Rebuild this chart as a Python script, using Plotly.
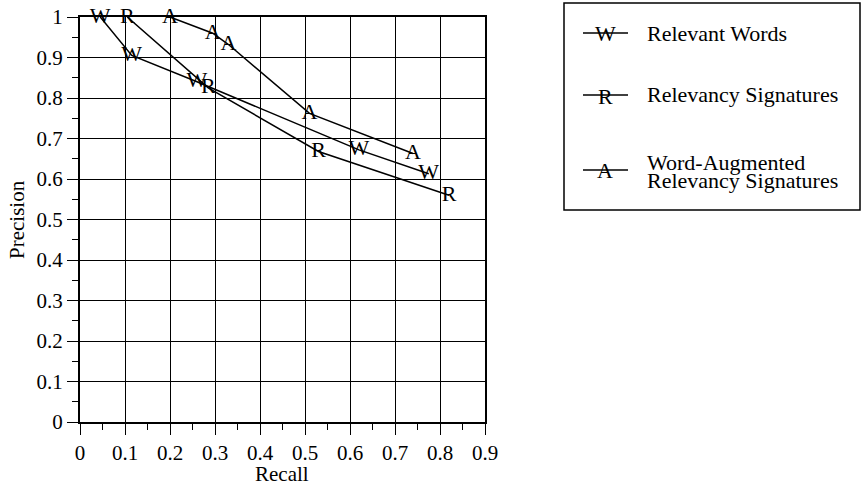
import plotly.graph_objects as go

# ---- data ----
words_recall = [0.045, 0.115, 0.26, 0.62, 0.775]
words_precision = [1.0, 0.905, 0.84, 0.672, 0.613]

sig_recall = [0.105, 0.285, 0.53, 0.82]
sig_precision = [1.0, 0.825, 0.668, 0.56]

aug_recall = [0.2, 0.295, 0.33, 0.51, 0.74]
aug_precision = [1.0, 0.96, 0.932, 0.762, 0.663]

series_names = ["Relevant Words", "Relevancy Signatures", "Word-Augmented Relevancy Signatures"]
series_letters = ["W", "R", "A"]

x_ticks = [0.0, 0.1, 0.2, 0.3, 0.4, 0.5, 0.6, 0.7, 0.8, 0.9]
x_tick_labels = ["0", "0.1", "0.2", "0.3", "0.4", "0.5", "0.6", "0.7", "0.8", "0.9"]
y_ticks = [0.0, 0.1, 0.2, 0.3, 0.4, 0.5, 0.6, 0.7, 0.8, 0.9, 1.0]
y_tick_labels = ["0", "0.1", "0.2", "0.3", "0.4", "0.5", "0.6", "0.7", "0.8", "0.9", "1"]

FONT = "Liberation Serif, Times New Roman, serif"
MARK_SIZE = 22
TICK_SIZE = 21
LEGEND_SIZE = 22

fig = go.Figure()
for xs, ys, name, letter in [
    (words_recall, words_precision, series_names[0], series_letters[0]),
    (sig_recall, sig_precision, series_names[1], series_letters[1]),
    (aug_recall, aug_precision, series_names[2], series_letters[2]),
]:
    fig.add_trace(go.Scatter(
        x=xs, y=ys, name=name, mode="lines+text",
        text=[letter] * len(xs), textposition="middle center",
        textfont=dict(family=FONT, size=MARK_SIZE, color="black"),
        line=dict(color="black", width=1.5),
        cliponaxis=False, showlegend=False, hoverinfo="skip",
    ))

# plot area in pixels: x 80..485, y 17..422
L, T, W, H = 80, 17, 405, 405


def px(xp):
    return (xp - L) / W


def py(yp):
    return (T + H - yp) / H


shapes = []
annotations = []
# legend box
shapes.append(dict(type="rect", xref="paper", yref="paper",
                   x0=px(564), x1=px(860), y0=py(210), y1=py(3),
                   line=dict(color="black", width=1.5), fillcolor="white", layer="above"))
legend_rows = [(33, series_letters[0]), (95, series_letters[1]), (170, series_letters[2])]
for yy, letter in legend_rows:
    shapes.append(dict(type="line", xref="paper", yref="paper",
                       x0=px(583), x1=px(628), y0=py(yy), y1=py(yy),
                       line=dict(color="black", width=1.5)))
    annotations.append(dict(xref="paper", yref="paper", x=px(605), y=py(yy + 1),
                            text=letter, showarrow=False, xanchor="center", yanchor="middle",
                            font=dict(family=FONT, size=MARK_SIZE, color="black")))
legend_texts = [(33, "Relevant Words"), (95, "Relevancy Signatures"),
                (162, "Word-Augmented"), (180, "Relevancy Signatures")]
for yy, t in legend_texts:
    annotations.append(dict(xref="paper", yref="paper", x=px(645), y=py(yy),
                            text=t, showarrow=False, xanchor="left", yanchor="middle",
                            font=dict(family=FONT, size=LEGEND_SIZE, color="black")))

# axis titles
annotations.append(dict(xref="paper", yref="paper", x=px(282), y=py(474),
                        text="Recall", showarrow=False, xanchor="center", yanchor="middle",
                        font=dict(family=FONT, size=TICK_SIZE, color="black")))
annotations.append(dict(xref="paper", yref="paper", x=px(17), y=py(220),
                        text="Precision", showarrow=False, xanchor="center", yanchor="middle",
                        textangle=-90,
                        font=dict(family=FONT, size=TICK_SIZE, color="black")))

axis_common = dict(
    showgrid=True, gridcolor="black", gridwidth=1,
    showline=True, linecolor="black", linewidth=2, mirror=True,
    ticks="outside", ticklen=11, tickwidth=1, tickcolor="black",
    tickfont=dict(family=FONT, size=TICK_SIZE, color="black"),
    zeroline=False, automargin=False,
    minor=dict(ticks="outside", ticklen=6, tickwidth=1, tickcolor="black", showgrid=False),
)

fig.update_layout(
    width=862, height=487,
    margin=dict(l=L, r=862 - L - W, t=T, b=487 - T - H),
    paper_bgcolor="white", plot_bgcolor="white",
    font=dict(family=FONT, color="black"),
    xaxis=dict(range=[0, 0.9], tickvals=x_ticks, ticktext=x_tick_labels, **axis_common),
    yaxis=dict(range=[0, 1.0], tickvals=y_ticks, ticktext=y_tick_labels, **axis_common),
    shapes=shapes, annotations=annotations,
)
fig.update_xaxes(minor_dtick=0.05)
fig.update_yaxes(minor_dtick=0.05)

fig.write_html(
    "out.html",
    config={"displayModeBar": False},
    post_script="document.body.style.margin='0px';document.body.style.overflow='hidden';",
)
